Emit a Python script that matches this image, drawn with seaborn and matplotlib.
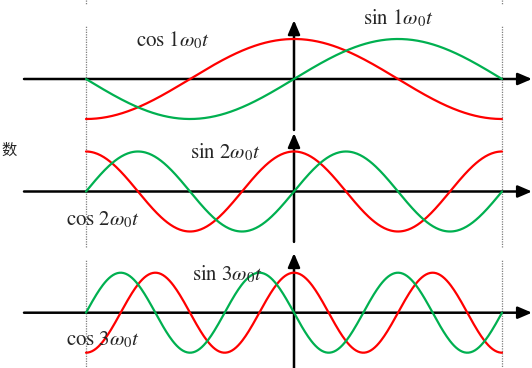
"""Harmonic components cos(n w0 t) / sin(n w0 t) for n = 1, 2, 3."""

import matplotlib

matplotlib.use("Agg")
import matplotlib.pyplot as plt
import numpy as np
import pandas as pd
import seaborn as sns

# --------------------------------------------------------------------------- #
# Data
# --------------------------------------------------------------------------- #
HARMONICS = [1, 2, 3]
SIN_SIGN = [1, 1, -1]               # the third green curve is drawn phase-flipped
T_START, T_END = -0.5, 0.5          # one period, T = 1
N_SAMPLES = 400
COS_LABELS = [r"$\cos\,1\omega_0 t$", r"$\cos\,2\omega_0 t$", r"$\cos\,3\omega_0 t$"]
SIN_LABELS = [r"$\sin\,1\omega_0 t$", r"$\sin\,2\omega_0 t$", r"$\sin\,3\omega_0 t$"]
SIDE_TEXT = "数"

# --------------------------------------------------------------------------- #
# Styling
# --------------------------------------------------------------------------- #
COS_COLOR = "#ff0000"
SIN_COLOR = "#00b050"
AXIS_COLOR = "black"
GUIDE_COLOR = "#7f7f7f"
LABEL_SIZE = 15

sns.set_theme(style="white")
plt.rcParams["font.family"] = ["DejaVu Sans", "Noto Sans CJK SC"]
plt.rcParams["mathtext.fontset"] = "stix"

W, H = 532, 368
X0 = 294          # pixel column of t = 0
XSCALE = 416      # pixels per period
YSCALE = 40       # pixels per unit amplitude

# panel pixel bounds: (top, bottom, axis row)
PANELS = [(0, 130, 79.0), (130, 250, 191.5), (250, 368, 312.7)]
# label anchors (t, y) for cos / sin texts
COS_POS = [(-0.38, 0.97), (-0.548, -0.71), (-0.548, -0.68)]
SIN_POS = [(0.166, 1.52), (-0.25, 0.99), (-0.245, 0.97)]
# vertical axis extents (tip, bottom), dotted guide extents
VAXIS = [(1.47, -1.275), (1.46, -1.26), (1.49, -1.4)]
GUIDES = [(1.35, -1.275), (1.54, -1.39), (1.34, -1.4)]

t = np.linspace(T_START, T_END, N_SAMPLES)

fig = plt.figure(figsize=(W / 100, H / 100), dpi=100)
xlim = ((0 - X0) / XSCALE, (W - X0) / XSCALE)
arrow = dict(arrowstyle="-|>,head_length=0.7,head_width=0.3",
             color=AXIS_COLOR, lw=1.8, shrinkA=0, shrinkB=0)

for i, n in enumerate(HARMONICS):
    top, bottom, row = PANELS[i]
    ax = fig.add_axes([0, 1 - bottom / H, 1, (bottom - top) / H])
    ax.set_xlim(*xlim)
    ax.set_ylim(-(bottom - row) / YSCALE, (row - top) / YSCALE)
    ax.axis("off")

    df = pd.DataFrame({
        "t": np.concatenate([t, t]),
        "y": np.concatenate([np.cos(2 * np.pi * n * t),
                             SIN_SIGN[i] * np.sin(2 * np.pi * n * t)]),
        "kind": ["cos"] * len(t) + ["sin"] * len(t),
    })
    sns.lineplot(data=df, x="t", y="y", hue="kind",
                 palette={"cos": COS_COLOR, "sin": SIN_COLOR},
                 linewidth=1.6, legend=False, ax=ax, zorder=3)

    # dotted guides at the period edges
    g_top, g_bot = GUIDES[i]
    for edge in (T_START, T_END):
        ax.plot([edge, edge], [g_bot, g_top], color=GUIDE_COLOR, lw=0.9,
                ls=(0, (1, 1)), zorder=1)
        if i == 0:
            ax.plot([edge, edge], [ax.get_ylim()[1], ax.get_ylim()[1] - 0.1],
                    color=GUIDE_COLOR, lw=0.9, ls=(0, (1, 1)), zorder=1)

    # time axis and amplitude axis, both with arrow heads
    ax.annotate("", xy=(xlim[1], 0), xytext=((24 - X0) / XSCALE, 0),
                arrowprops=arrow, zorder=2)
    v_tip, v_bot = VAXIS[i]
    ax.annotate("", xy=(0, v_tip), xytext=(0, v_bot), arrowprops=arrow, zorder=2)

    ax.text(*COS_POS[i], COS_LABELS[i], fontsize=LABEL_SIZE, ha="left",
            va="center", zorder=4)
    ax.text(*SIN_POS[i], SIN_LABELS[i], fontsize=LABEL_SIZE, ha="left",
            va="center", zorder=4)

    if i == 1:
        ax.text((1 - X0) / XSCALE, 1.04, SIDE_TEXT, fontsize=11, ha="left",
                va="center", family=["Noto Sans CJK SC", "DejaVu Sans"])

fig.savefig("out.png", dpi=100)
